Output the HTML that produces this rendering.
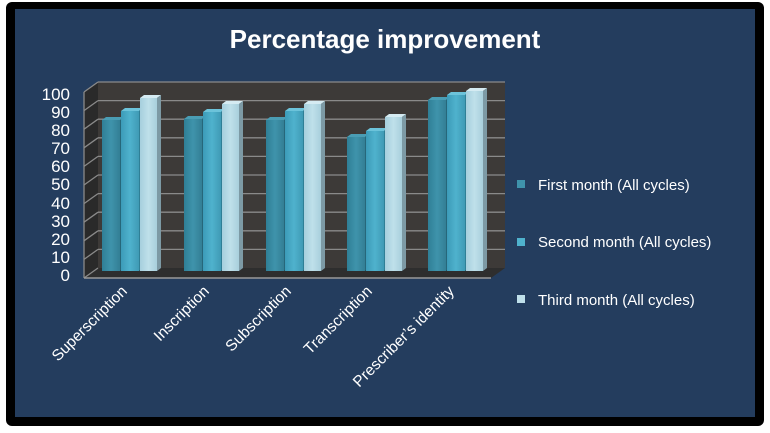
<!DOCTYPE html>
<html><head><style>
body{margin:0;background:#fff;width:770px;height:428px;overflow:hidden;font-family:"Liberation Sans",sans-serif}
</style></head><body>
<svg width="770" height="428" xmlns="http://www.w3.org/2000/svg">
<defs>
<linearGradient id="g1" x1="0" x2="1"><stop offset="0" stop-color="#2f7f96"/><stop offset="0.5" stop-color="#3f93ab"/><stop offset="1" stop-color="#337f95"/></linearGradient>
<linearGradient id="g2" x1="0" x2="1"><stop offset="0" stop-color="#3c9bb8"/><stop offset="0.5" stop-color="#4fb2cd"/><stop offset="1" stop-color="#3f9ab5"/></linearGradient>
<linearGradient id="g3" x1="0" x2="1"><stop offset="0" stop-color="#a6cfdd"/><stop offset="0.5" stop-color="#bfe0ea"/><stop offset="1" stop-color="#a8cfdc"/></linearGradient>
</defs>
<rect x="6" y="2" width="758" height="424" rx="6" fill="#000"/>
<rect x="15" y="9" width="740" height="408" fill="#243d5e"/>
<text x="385" y="48" text-anchor="middle" fill="#fff" font-size="26" font-weight="bold">Percentage improvement</text>
<polygon points="84,92 98,82 98,268 84,278" fill="#2a2a2a"/>
<rect x="98" y="82" width="407" height="186" fill="#3d3a38"/>
<polygon points="84,278 98,268 505,268 491,278" fill="#2e2e2e"/>
<g stroke="#8a8a8a" stroke-width="1.3">
<line x1="98" y1="82" x2="505" y2="82"/><line x1="98" y1="100.6" x2="505" y2="100.6"/><line x1="98" y1="119.2" x2="505" y2="119.2"/><line x1="98" y1="137.8" x2="505" y2="137.8"/><line x1="98" y1="156.4" x2="505" y2="156.4"/><line x1="98" y1="175" x2="505" y2="175"/><line x1="98" y1="193.6" x2="505" y2="193.6"/><line x1="98" y1="212.2" x2="505" y2="212.2"/><line x1="98" y1="230.8" x2="505" y2="230.8"/><line x1="98" y1="249.4" x2="505" y2="249.4"/>
<line x1="84" y1="92" x2="98" y2="82"/><line x1="84" y1="110.6" x2="98" y2="100.6"/><line x1="84" y1="129.2" x2="98" y2="119.2"/><line x1="84" y1="147.8" x2="98" y2="137.8"/><line x1="84" y1="166.4" x2="98" y2="156.4"/><line x1="84" y1="185" x2="98" y2="175"/><line x1="84" y1="203.6" x2="98" y2="193.6"/><line x1="84" y1="222.2" x2="98" y2="212.2"/><line x1="84" y1="240.8" x2="98" y2="230.8"/><line x1="84" y1="259.4" x2="98" y2="249.4"/>
<line x1="84" y1="92" x2="84" y2="278"/><line x1="84" y1="278" x2="98" y2="268"/>
</g>
<line x1="84" y1="278" x2="491" y2="278" stroke="#999" stroke-width="1.5"/>
<g>
<g transform="translate(102,0)">
<rect x="0" y="120" width="18" height="151" fill="url(#g1)"/><polygon points="0,120 4,117 22,117 18,120" fill="#4a9db4"/><polygon points="18,120 22,117 22,268 18,271" fill="#26677a"/>
<rect x="19" y="111" width="18" height="160" fill="url(#g2)"/><polygon points="19,111 23,108 41,108 37,111" fill="#6cc3da"/><polygon points="37,111 41,108 41,268 37,271" fill="#2f7f96"/>
<rect x="38" y="98" width="17" height="173" fill="url(#g3)"/><polygon points="38,98 42,95 59,95 55,98" fill="#d5ebf2"/><polygon points="55,98 59,95 59,268 55,271" fill="#7d9aa5"/>
</g>
<g transform="translate(184,0)">
<rect x="0" y="119" width="18" height="152" fill="url(#g1)"/><polygon points="0,119 4,116 22,116 18,119" fill="#4a9db4"/><polygon points="18,119 22,116 22,268 18,271" fill="#26677a"/>
<rect x="19" y="112" width="18" height="159" fill="url(#g2)"/><polygon points="19,112 23,109 41,109 37,112" fill="#6cc3da"/><polygon points="37,112 41,109 41,268 37,271" fill="#2f7f96"/>
<rect x="38" y="104" width="17" height="167" fill="url(#g3)"/><polygon points="38,104 42,101 59,101 55,104" fill="#d5ebf2"/><polygon points="55,104 59,101 59,268 55,271" fill="#7d9aa5"/>
</g>
<g transform="translate(266,0)">
<rect x="0" y="120" width="18" height="151" fill="url(#g1)"/><polygon points="0,120 4,117 22,117 18,120" fill="#4a9db4"/><polygon points="18,120 22,117 22,268 18,271" fill="#26677a"/>
<rect x="19" y="111" width="18" height="160" fill="url(#g2)"/><polygon points="19,111 23,108 41,108 37,111" fill="#6cc3da"/><polygon points="37,111 41,108 41,268 37,271" fill="#2f7f96"/>
<rect x="38" y="104" width="17" height="167" fill="url(#g3)"/><polygon points="38,104 42,101 59,101 55,104" fill="#d5ebf2"/><polygon points="55,104 59,101 59,268 55,271" fill="#7d9aa5"/>
</g>
<g transform="translate(347,0)">
<rect x="0" y="137" width="18" height="134" fill="url(#g1)"/><polygon points="0,137 4,134 22,134 18,137" fill="#4a9db4"/><polygon points="18,137 22,134 22,268 18,271" fill="#26677a"/>
<rect x="19" y="131" width="18" height="140" fill="url(#g2)"/><polygon points="19,131 23,128 41,128 37,131" fill="#6cc3da"/><polygon points="37,131 41,128 41,268 37,271" fill="#2f7f96"/>
<rect x="38" y="117" width="17" height="154" fill="url(#g3)"/><polygon points="38,117 42,114 59,114 55,117" fill="#d5ebf2"/><polygon points="55,117 59,114 59,268 55,271" fill="#7d9aa5"/>
</g>
<g transform="translate(428,0)">
<rect x="0" y="100" width="18" height="171" fill="url(#g1)"/><polygon points="0,100 4,97 22,97 18,100" fill="#4a9db4"/><polygon points="18,100 22,97 22,268 18,271" fill="#26677a"/>
<rect x="19" y="95" width="18" height="176" fill="url(#g2)"/><polygon points="19,95 23,92 41,92 37,95" fill="#6cc3da"/><polygon points="37,95 41,92 41,268 37,271" fill="#2f7f96"/>
<rect x="38" y="91" width="17" height="180" fill="url(#g3)"/><polygon points="38,91 42,88 59,88 55,91" fill="#d5ebf2"/><polygon points="55,91 59,88 59,268 55,271" fill="#7d9aa5"/>
</g>
</g>
<g fill="#fff" font-size="17" text-anchor="end">
<text x="70" y="100">100</text><text x="70" y="118">90</text><text x="70" y="136">80</text><text x="70" y="154">70</text><text x="70" y="172">60</text><text x="70" y="190">50</text><text x="70" y="209">40</text><text x="70" y="227">30</text><text x="70" y="245">20</text><text x="70" y="263">10</text><text x="70" y="281">0</text>
</g>
<g fill="#fff" font-size="15.5" text-anchor="end">
<text transform="translate(128,292) rotate(-45)">Superscription</text>
<text transform="translate(210,292) rotate(-45)">Inscription</text>
<text transform="translate(292,292) rotate(-45)">Subscription</text>
<text transform="translate(373,292) rotate(-45)">Transcription</text>
<text transform="translate(455,292) rotate(-45)">Prescriber’s identity</text>
</g>
<g font-size="15" fill="#fff">
<rect x="517" y="180" width="8" height="8" fill="#3f93ab"/><text x="538" y="190">First month (All cycles)</text>
<rect x="517" y="238" width="8" height="8" fill="#4fb2cd"/><text x="538" y="247">Second month  (All cycles)</text>
<rect x="517" y="295" width="8" height="8" fill="#bfe0ea"/><text x="538" y="305">Third month  (All cycles)</text>
</g>
</svg>
</body></html>
